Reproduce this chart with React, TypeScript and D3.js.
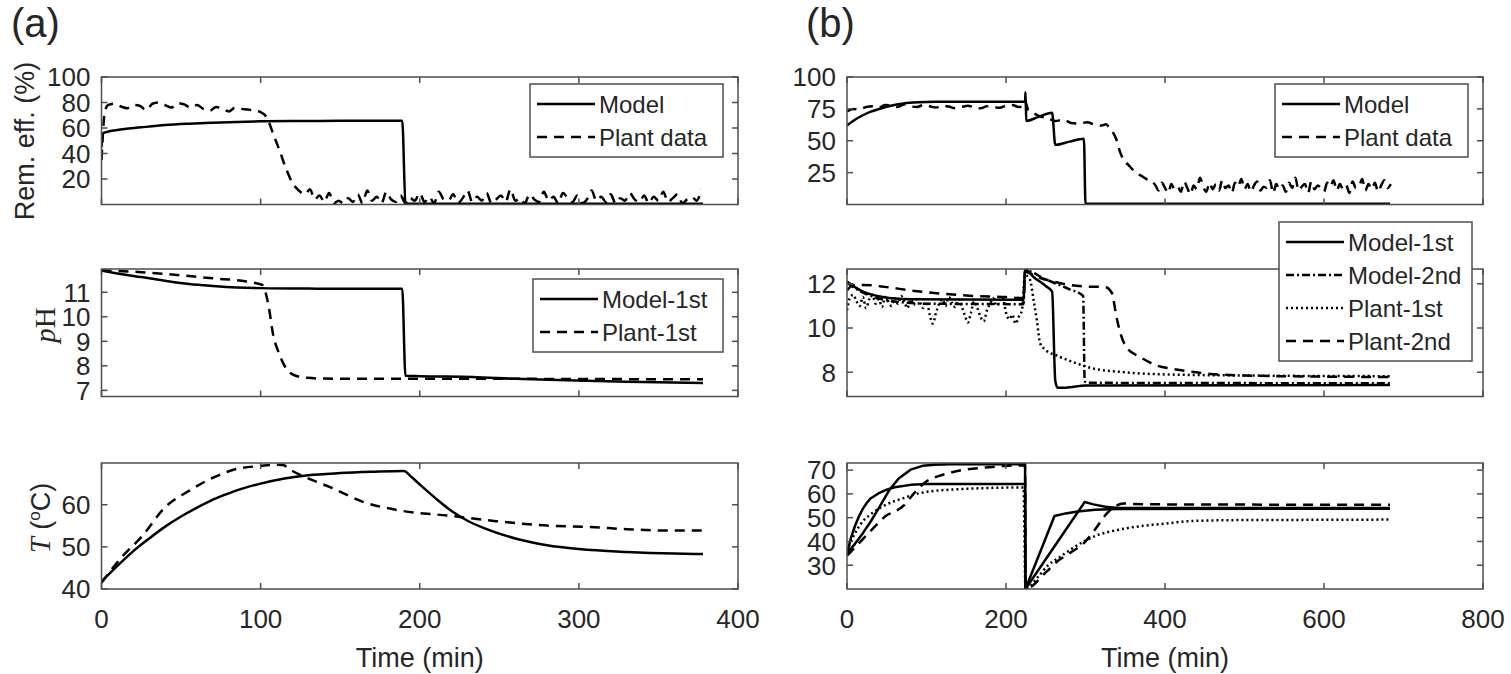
import React from "react";
import * as d3 from "d3";

type P = [number, number];

// ---------- (a) Removal efficiency ----------
const remAModel: P[] = [[0,45],[1,56],[10,58.5],[25,60.5],[40,62.3],[55,63.4],[70,64.2],[85,64.8],[100,65.2],[120,65.5],[150,65.6],[189,65.6],[191,2],[193,0.6],[200,0.5],[378,0.5]];
const remAPlantHead: P[] = [[0,35],[2,72],[4,78],[8,79],[12,77],[16,75.5],[20,78],[24,77.5],[28,74],[32,79],[36,80],[40,78],[44,76],[48,79.5],[52,78.5],[56,76],[60,78],[64,75],[68,73.5],[72,76.5],[76,75],[80,73],[84,76],[88,75],[92,74.5],[96,73.5],[100,72.5],[104,68],[108,55],[112,42],[116,28],[120,17],[124,11],[128,8]];
const remAPlantNoise: number[] = [12,4,7,2,9,1,3,1,5,2,8,1,11,3,6,1,10,4,2,7,1,5,3,9,2,6,1,10,4,3,8,1,5,11,2,6,3,9,1,4,7,2,12,3,5,1,8,4,2,10,3,6,1,9,5,2,7,1,4,11,3,6,2,8,1,5,3,9,4,2,7,1,6,3,10,2,5,8,1,4,6,3,12];

// ---------- (a) pH ----------
const phAModel: P[] = [[0,11.89],[10,11.77],[25,11.62],[40,11.47],[55,11.34],[70,11.26],[85,11.2],[100,11.17],[130,11.15],[189,11.14],[191,7.6],[200,7.58],[233,7.55],[260,7.47],[292,7.41],[330,7.35],[378,7.3]];
const phAPlant: P[] = [[0,11.89],[25,11.82],[40,11.75],[55,11.66],[70,11.57],[91,11.44],[101,11.3],[105,10.45],[108,9.22],[111,8.6],[114,8.13],[120,7.65],[129,7.51],[140,7.48],[200,7.47],[260,7.47],[320,7.46],[378,7.45]];

// ---------- (a) Temperature ----------
const tAModel: P[] = [[0,41.8],[10,45.5],[20,49],[30,52],[40,54.8],[50,57.2],[60,59.3],[70,61.2],[80,62.7],[90,64],[100,65],[115,66.2],[130,67],[150,67.5],[170,67.8],[190,68],[195,66.5],[200,64.8],[210,61.5],[220,58.5],[230,56.2],[240,54.5],[260,52],[280,50.4],[300,49.5],[330,48.8],[360,48.4],[378,48.3]];
const tAPlant: P[] = [[0,41.5],[5,44],[13,47.7],[25,52.3],[40,59.4],[55,63.3],[70,66.4],[84,68.4],[100,69.2],[110,69.5],[114,69.4],[120,68],[129,66.4],[144,64.1],[165,60.6],[188,58.6],[218,57.4],[248,56.1],[278,55.1],[307,54.7],[330,54.2],[352,53.9],[378,53.9]];

// ---------- (b) Removal efficiency ----------
const remBModel: P[] = [[0,62],[10,66.5],[20,70],[30,72.8],[41,75],[55,77.5],[71,79.3],[90,80.2],[110,80.5],[224,80.5],[224.5,88],[225.5,65.5],[240,68.5],[258,72],[262,46.8],[280,49.3],[298,51.5],[300,0.5],[683,0.5]];
const remBPlantHead: P[] = [[0,73],[8,75],[16,74.5],[24,76.5],[32,77],[40,76],[48,78],[56,77.5],[64,76.5],[72,78.5],[80,77],[88,76.5],[96,78],[104,77],[112,76],[120,77.5],[128,76.8],[136,75.5],[144,76.5],[152,77.5],[160,76],[168,75.5],[176,77],[184,76.5],[192,75.8],[200,77.5],[208,78],[216,76.5],[222,77],[224,81],[228,74],[234,72],[243,69],[252,68],[262,65.5],[272,66.5],[282,64],[292,63.5],[302,64.5],[312,62.6],[320,62],[326,63],[330,60],[335,56],[339,50.8],[343,42],[348,35],[354,31],[360,27],[366,24],[372,21.8],[378,19.5],[384,17.9]];
const remBPlantNoise: number[] = [15,11,17,13,9,16,12,14,10,18,13,8,15,12,21,14,10,17,12,16,11,19,13,15,9,17,14,20,12,16,10,15,18,11,14,13,19,9,16,12,15,10,17,13,21,11,14,16,9,18,12,15,13,10,17,14,19,11,16,12,15,9,18,13,14,20,11,16,12,17,10,15,19,13,16];

// ---------- (b) pH ----------
const phBModel1: P[] = [[0,12.1],[10,11.85],[20,11.65],[30,11.52],[45,11.4],[60,11.33],[80,11.3],[222,11.28],[224,12.65],[235,12.3],[250,11.9],[258,11.65],[262,7.6],[265,7.3],[275,7.3],[300,7.4],[683,7.42]];
const phBModel2: P[] = [[0,12.05],[10,11.8],[30,11.45],[60,11.2],[100,11.1],[222,11.08],[224,12.6],[250,12.2],[280,11.75],[297,11.45],[299,7.6],[302,7.52],[683,7.5]];
const phBPlant1Noise: number[] = [10.8,11.4,11.5,11.2,11.0,11.4,10.9,11.3,11.5,11.1,11.3,10.95,11.4,11.2,11.0,11.35,11.1,11.45,11.2,10.9,11.3,11.05,11.4,11.15,10.9,11.3,10.6,10.2,10.7,11.1,11.3,11.0,11.4,11.15,10.95,11.3,11.0,10.6,10.25,10.7,11.2,10.9,10.5,10.3,10.8,11.1,11.35,11.0,11.2,11.4,10.7,10.4,10.6,10.2,10.5,10.8];
const phBPlant1Tail: P[] = [[224,12.4],[230,12.2],[235,11.2],[239,10.3],[243,9.3],[250,9.0],[264,8.75],[285,8.45],[306,8.2],[348,8.0],[400,7.9],[500,7.85],[683,7.82]];
const phBPlant2: P[] = [[0,11.7],[8,11.95],[20,11.95],[50,11.85],[80,11.7],[120,11.55],[160,11.45],[200,11.4],[222,11.35],[224,12.55],[240,12.3],[260,12.1],[280,11.95],[300,11.88],[325,11.85],[333,11.6],[339,10.5],[344,9.75],[352,9.1],[368,8.7],[390,8.3],[410,8.15],[450,7.95],[500,7.85],[600,7.8],[683,7.78]];

// ---------- (b) Temperature ----------
const tBModelA: P[] = [[0,35],[5,41.5],[10,46.5],[15,50.5],[20,53.8],[25,56.3],[30,58.2],[40,60.3],[50,61.8],[60,62.8],[80,63.8],[100,64.2],[224,64.2],[224.5,20],[261,50.7],[275,51.8],[290,52.6],[312,53.3],[340,53.7],[683,53.8]];
const tBModelB: P[] = [[0,35],[10,39],[20,43.5],[30,48.5],[40,54],[53,61.5],[65,66.5],[80,70.2],[95,71.8],[110,72.3],[130,72.5],[224,72.5],[224.5,20],[299,56.6],[310,55.6],[325,54.6],[342,54.1],[683,54.1]];
const tBPlant2: P[] = [[0,34],[10,37.5],[20,41],[30,44.5],[40,48],[50,51],[60,52.5],[71,55],[85,60.5],[101,65.5],[115,67.5],[131,69],[150,70.3],[170,71],[190,71.5],[210,72],[224,72],[224.5,20],[250,27],[264,31.5],[280,35],[300,40],[312,45],[324,50.7],[336,54.5],[348,56],[360,55.8],[400,55.6],[500,55.5],[683,55.4]];
const tBPlant1: P[] = [[0,36],[5,40],[11,44],[20,48.5],[30,51.5],[45,54.8],[60,57],[71,58.2],[85,59.8],[101,60.9],[130,61.8],[161,62.3],[190,62.6],[222,62.7],[224.5,20],[240,25],[253,30],[268,33.5],[283,37],[298,40],[313,42.4],[340,44.8],[373,46.6],[400,47.5],[433,48.6],[500,49],[600,49.1],[683,49.2]];

// ---------- ticks ----------
const xTicksA = [0, 100, 200, 300, 400];
const xTicksB = [0, 200, 400, 600, 800];
const yTicksRemA = [20, 40, 60, 80, 100];
const yTicksPhA = [7, 8, 9, 10, 11];
const yTicksTA = [40, 50, 60];
const yTicksRemB = [25, 50, 75, 100];
const yTicksPhB = [8, 10, 12];
const yTicksTB = [30, 40, 50, 60, 70];

const remAPlant: P[] = [...remAPlantHead, ...remAPlantNoise.map((v, i) => [131 + 3 * i, v] as P)];
const remBPlant: P[] = [...remBPlantHead, ...remBPlantNoise.map((v, i) => [388 + 4 * i, v] as P)];
const phBPlant1: P[] = [...phBPlant1Noise.map((v, i) => [4 * i, v] as P), ...phBPlant1Tail];

const SANS = "'Liberation Sans', Arial, sans-serif";
const SERIF = "'Liberation Serif', 'Times New Roman', serif";
const TXT = "#262626";
const AX = "#4d4d4d";

const STYLES: Record<string, string | undefined> = {
  solid: undefined,
  dashed: "10,7",
  dotted: "2,3",
  dashdot: "8,3,2,3",
};

type Series = { data: P[]; style: string; linear?: boolean };
type Legend = { x: number; y: number; w: number; items: { label: string; style: string }[] };

const COLS = [
  { x0: 101.5, x1: 738, domain: [0, 400], ticks: xTicksA },
  { x0: 847, x1: 1483, domain: [0, 800], ticks: xTicksB },
];
const ROWS = [
  { y0: 77, y1: 204.5 },
  { y0: 269, y1: 396.5 },
  { y0: 463, y1: 589 },
];

type PanelDef = {
  col: number;
  row: number;
  ydomain: [number, number];
  yticks: number[];
  series: Series[];
  legend?: Legend;
};

const panels: PanelDef[] = [
  { col: 0, row: 0, ydomain: [0, 100], yticks: yTicksRemA,
    series: [{ data: remAModel, style: "solid" }, { data: remAPlant, style: "dashed" }],
    legend: { x: 530, y: 84, w: 193, items: [{ label: "Model", style: "solid" }, { label: "Plant data", style: "dashed" }] } },
  { col: 0, row: 1, ydomain: [6.75, 11.95], yticks: yTicksPhA,
    series: [{ data: phAModel, style: "solid" }, { data: phAPlant, style: "dashed" }],
    legend: { x: 533, y: 279, w: 190, items: [{ label: "Model-1st", style: "solid" }, { label: "Plant-1st", style: "dashed" }] } },
  { col: 0, row: 2, ydomain: [40, 69.9], yticks: yTicksTA,
    series: [{ data: tAModel, style: "solid" }, { data: tAPlant, style: "dashed" }] },
  { col: 1, row: 0, ydomain: [0, 100], yticks: yTicksRemB,
    series: [{ data: remBModel, style: "solid" }, { data: remBPlant, style: "dashed" }],
    legend: { x: 1275, y: 84, w: 193, items: [{ label: "Model", style: "solid" }, { label: "Plant data", style: "dashed" }] } },
  { col: 1, row: 1, ydomain: [6.9, 12.67], yticks: yTicksPhB,
    series: [{ data: phBModel1, style: "solid" }, { data: phBModel2, style: "dashdot" }, { data: phBPlant1, style: "dotted" }, { data: phBPlant2, style: "dashed" }],
    legend: { x: 1279, y: 222, w: 193, items: [{ label: "Model-1st", style: "solid" }, { label: "Model-2nd", style: "dashdot" }, { label: "Plant-1st", style: "dotted" }, { label: "Plant-2nd", style: "dashed" }] } },
  { col: 1, row: 2, ydomain: [20, 73], yticks: yTicksTB,
    series: [{ data: tBModelA, style: "solid", linear: true }, { data: tBModelB, style: "solid", linear: true }, { data: tBPlant2, style: "dashed" }, { data: tBPlant1, style: "dotted" }] },
];

function Panel({ p, idx }: { p: PanelDef; idx: number }) {
  const c = COLS[p.col];
  const r = ROWS[p.row];
  const x = d3.scaleLinear().domain(c.domain).range([c.x0, c.x1]);
  const y = d3.scaleLinear().domain(p.ydomain).range([r.y1, r.y0]);
  const smooth = d3.line<P>().x((d) => x(d[0])).y((d) => y(d[1])).curve(d3.curveMonotoneX);
  const straight = d3.line<P>().x((d) => x(d[0])).y((d) => y(d[1]));
  const TL = 6;
  const clipId = `clip${idx}`;
  return (
    <g>
      <clipPath id={clipId}>
        <rect x={c.x0} y={r.y0} width={c.x1 - c.x0} height={r.y1 - r.y0} />
      </clipPath>
      <g clipPath={`url(#${clipId})`}>
        {p.series.map((s, i) => (
          <path key={i} d={(s.linear ? straight : smooth)(s.data) || ""} fill="none" stroke="#000" strokeWidth={2.5}
            strokeDasharray={STYLES[s.style]} strokeLinejoin="round" />
        ))}
      </g>
      <rect x={c.x0} y={r.y0} width={c.x1 - c.x0} height={r.y1 - r.y0} fill="none" stroke={AX} strokeWidth={1.5} />
      {p.yticks.map((t) => (
        <g key={"y" + t}>
          <line x1={c.x0} x2={c.x0 + TL} y1={y(t)} y2={y(t)} stroke={AX} strokeWidth={1.5} />
          <line x1={c.x1} x2={c.x1 - TL} y1={y(t)} y2={y(t)} stroke={AX} strokeWidth={1.5} />
          <text x={c.x0 - 11} y={y(t)} dy="0.36em" textAnchor="end" fontSize={26} fontFamily={SANS} fill={TXT}>{t}</text>
        </g>
      ))}
      {c.ticks.map((t) => (
        <g key={"x" + t}>
          <line x1={x(t)} x2={x(t)} y1={r.y1} y2={r.y1 - TL} stroke={AX} strokeWidth={1.5} />
          <line x1={x(t)} x2={x(t)} y1={r.y0} y2={r.y0 + TL} stroke={AX} strokeWidth={1.5} />
          {p.row === 2 && (
            <text x={x(t)} y={r.y1 + 39} textAnchor="middle" fontSize={26} fontFamily={SANS} fill={TXT}>{t}</text>
          )}
        </g>
      ))}
      {p.row === 2 && (
        <text x={(c.x0 + c.x1) / 2} y={667} textAnchor="middle" fontSize={27} fontFamily={SANS} fill={TXT}>Time (min)</text>
      )}
      {p.legend && (
        <g>
          <rect x={p.legend.x} y={p.legend.y} width={p.legend.w} height={p.legend.items.length * 33 + 7}
            fill="#fff" stroke={AX} strokeWidth={1.5} />
          {p.legend.items.map((it, i) => {
            const cy = p.legend!.y + 20 + 33 * i;
            return (
              <g key={i}>
                <line x1={p.legend!.x + 7} x2={p.legend!.x + 65} y1={cy} y2={cy} stroke="#000" strokeWidth={2.5}
                  strokeDasharray={STYLES[it.style]} />
                <text x={p.legend!.x + 69} y={cy} dy="0.36em" fontSize={24} fontFamily={SANS} fill={TXT}>{it.label}</text>
              </g>
            );
          })}
        </g>
      )}
    </g>
  );
}

export default function App() {
  return (
    <svg width={1511} height={674} style={{ position: "absolute", left: 0, top: 0, background: "#fff" }}>
      <rect x={0} y={0} width={1511} height={674} fill="#fff" />
      <text x={11} y={37} fontSize={40} fontFamily={SANS} fill={TXT}>(a)</text>
      <text x={806} y={37} fontSize={40} fontFamily={SANS} fill={TXT}>(b)</text>
      <text transform="translate(24,141) rotate(-90)" textAnchor="middle" dy="0.36em" fontSize={27} fontFamily={SANS} fill={TXT}>Rem. eff. (%)</text>
      <text transform="translate(46,325) rotate(-90)" textAnchor="middle" dy="0.3em" fontSize={29} fontFamily={SERIF} fill={TXT}>
        <tspan fontStyle="italic">p</tspan>H
      </text>
      <text transform="translate(40,518) rotate(-90)" textAnchor="middle" dy="0.36em" fontSize={27} fontFamily={SANS} fill={TXT}>
        <tspan fontFamily={SERIF} fontStyle="italic" fontSize={29}>T</tspan>
        <tspan> (</tspan>
        <tspan fontSize={17} dy={-10}>o</tspan>
        <tspan dy={10}>C)</tspan>
      </text>
      {panels.map((p, i) => <Panel key={i} p={p} idx={i} />)}
    </svg>
  );
}
